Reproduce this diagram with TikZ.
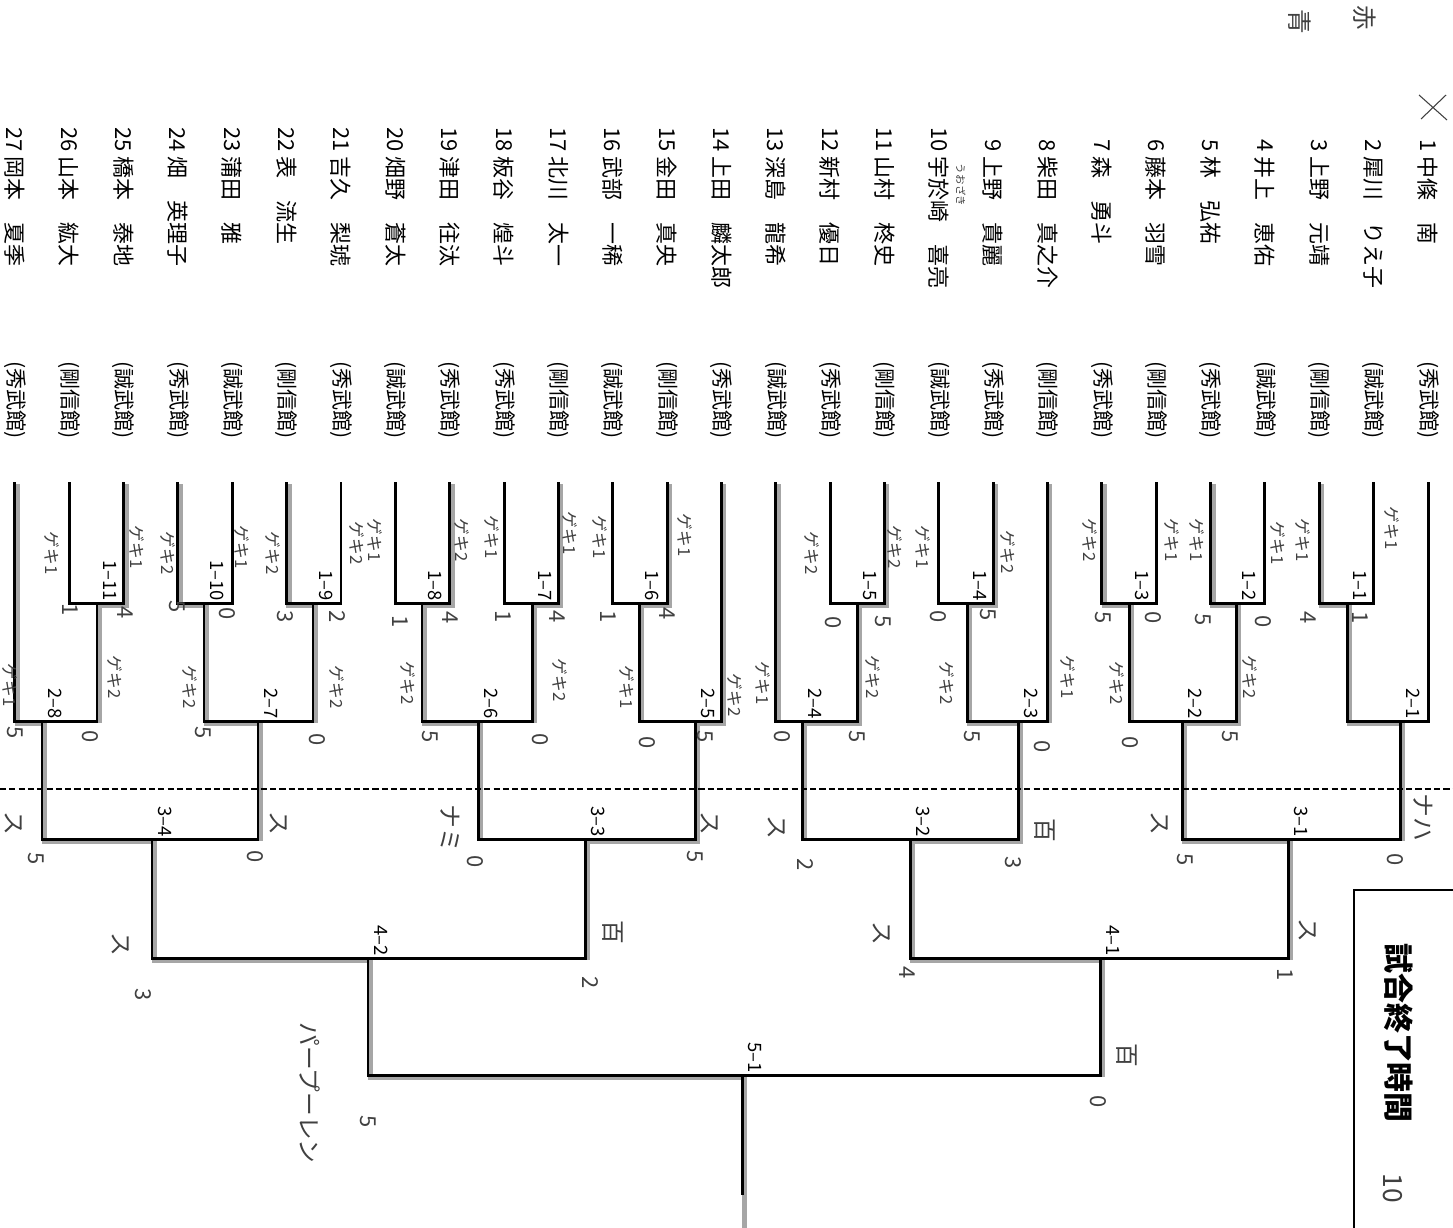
\documentclass[tikz,border=0pt]{standalone}
\usepackage{fontspec}
\setmainfont{Noto Sans CJK JP}
\newfontfamily\handfont{Noto Sans CJK JP}
\usetikzlibrary{calc}

\begin{document}
\begin{tikzpicture}[x=0.02cm, y=-0.02cm,
  txt/.style={rotate=-90, inner sep=0pt},
  num/.style={txt, anchor=east, font=\fontsize{12.5}{15}\selectfont},
  pname/.style={txt, anchor=west, font=\fontsize{12.5}{15}\selectfont},
  school/.style={txt, anchor=west, font=\fontsize{12}{14}\selectfont},
  round/.style={txt, anchor=east, font=\fontsize{10.5}{12}\selectfont},
  bracket/.style={line width=1.7pt},
  win/.style={line width=3pt, black!35},
  cut/.style={line width=0.7pt, dash pattern=on 3.5pt off 1.8pt},
  hand/.style={txt, text=black!75, font=\handfont\fontsize{9.5}{10}\selectfont},
  score/.style={hand, font=\handfont\fontsize{12.5}{13}\selectfont},
  kata/.style={hand, font=\handfont\fontsize{13.5}{14}\selectfont}]

\useasboundingbox[fill=white] (0,0) rectangle (1453,1227);

% entrants
\foreach \nb/\nm/\dojo [count=\i] in {1/中條　南/秀武館, 2/犀川　りえ子/誠武館,
    3/上野　元靖/剛信館, 4/井上　恵佑/誠武館, 5/林　弘祐/秀武館, 6/藤本　羽雪/剛信館,
    7/森　勇斗/秀武館, 8/柴田　真之介/剛信館, 9/上野　貴麗/秀武館, 10/宇於崎　喜亮/誠武館,
    11/山村　柊史/剛信館, 12/新村　優日/秀武館, 13/深島　龍希/誠武館, 14/上田　麟太郎/秀武館,
    15/金田　真央/剛信館, 16/武部　一稀/誠武館, 17/北川　太一/剛信館, 18/板谷　煌斗/秀武館,
    19/津田　往汰/秀武館, 20/畑野　蒼太/誠武館, 21/吉久　梨琥/秀武館, 22/表　流生/剛信館,
    23/蒲田　雅/誠武館, 24/畑　英理子/秀武館, 25/橋本　泰地/誠武館, 26/山本　紘大/剛信館,
    27/岡本　夏季/秀武館} {
  \pgfmathsetmacro{\px}{1428-(\i-1)*54.35}
  \node[num] (n\i) at (\px,152) {\nb};
  \node[pname] (p\i) at (\px,156) {\nm};
  \node[school] (s\i) at (\px,361) {(\dojo)};
  \coordinate (t\i) at (\px,482);
}
\node[hand, font=\handfont\fontsize{6}{7}\selectfont] (kana) at (961,185) {うおざき};
\draw[black!75, line width=0.6pt] (1419,95) -- (1447,120) (1421,119) -- (1446,95);

% match points
\foreach \m/\x/\y in {m11/1347/603, m12/1236/603, m13/1129/603, m14/967/603,
    m15/857/603, m16/639/603, m17/532/603, m18/422/603, m19/313/603,
    m110/204/603, m111/97/603,
    m21/1400/721, m22/1182/721, m23/1018/721, m24/802/721, m25/695/721,
    m26/478/721, m27/258/721, m28/42/721,
    m31/1288/839, m32/910/839, m33/585/839, m34/152/839,
    m41/1100/958, m42/368/958, m51/742/1075}
  \coordinate (\m) at (\x,\y);
\coordinate (fin) at (742,1195);

% marker over the winners
\begin{scope}[transform canvas={xshift=1.3pt, yshift=-1.3pt}]
\foreach \w/\m in {t3/m11, m11/m21, t5/m12, t7/m13, m12/m22, m22/m31,
    t9/m14, m14/m23, t11/m15, m15/m24, m23/m32, m32/m41,
    t15/m16, t14/m25, t17/m17, t19/m18, m18/m26, m25/m33,
    t22/m19, t24/m110, m110/m27, t25/m111, t27/m28, m28/m34, m34/m42, m42/m51}
  \draw[win] (\w) |- (\m);
\foreach \m/\p in {t8/m23, t13/m24, m13/m22, m21/m31, m24/m32, m31/m41,
    m41/m51, m16/m25, m17/m26, m26/m33, m33/m42, m19/m27, m111/m28, m27/m34}
  \draw[win] (\m) -- (\m |- \p);
\draw[win] (m51) -- (742,1232);
\end{scope}

% bracket
\foreach \a/\m/\b in {t2/m11/t3, t4/m12/t5, t6/m13/t7, t9/m14/t10, t11/m15/t12,
    t15/m16/t16, t17/m17/t18, t19/m18/t20, t21/m19/t22, t23/m110/t24, t25/m111/t26,
    t1/m21/m11, m12/m22/m13, t8/m23/m14, m15/m24/t13, t14/m25/m16, m17/m26/m18,
    m19/m27/m110, m111/m28/t27, m21/m31/m22, m23/m32/m24, m25/m33/m26,
    m27/m34/m28, m31/m41/m32, m33/m42/m34, m41/m51/m42}
  \draw[bracket] (\a) |- (\m) -| (\b);
\draw[bracket] (m51) -- (fin);

\foreach \m/\lb in {m11/1--1, m12/1--2, m13/1--3, m14/1--4, m15/1--5, m16/1--6,
    m17/1--7, m18/1--8, m19/1--9, m110/1--10, m111/1--11,
    m21/2--1, m22/2--2, m23/2--3, m24/2--4, m25/2--5, m26/2--6, m27/2--7, m28/2--8,
    m31/3--1, m32/3--2, m33/3--3, m34/3--4, m41/4--1, m42/4--2, m51/5--1}
  \node[round] (l\m) at ($(\m)+(13,-2)$) {\lb};

\draw[cut] (0,789) -- (1453,789);

% end time box
\draw[line width=0.8pt] (1354,1235) |- (1460,890);
\node[txt, font=\bfseries\fontsize{17}{20}\selectfont] (endtime) at (1399,1033) {試合終了時間};

% pencil notes
\foreach \x/\y/\tx [count=\k] in {1392/528/ゲキ1, 1303/540/ゲキ1, 1278/543/ゲキ1,
    1197/540/ゲキ1, 1172/540/ゲキ1, 1090/540/ゲキ2, 1008/552/ゲキ2, 923/547/ゲキ1,
    895/547/ゲキ2, 812/553/ゲキ2, 685/535/ゲキ1, 600/537/ゲキ1, 570/533/ゲキ1,
    492/537/ゲキ1, 462/540/ゲキ2, 375/540/ゲキ1, 357/543/ゲキ2, 273/553/ゲキ2,
    242/547/ゲキ1, 168/553/ゲキ2, 137/547/ゲキ1, 52/553/ゲキ1,
    1250/677/ゲキ2, 1117/683/ゲキ2, 1068/677/ゲキ1, 947/683/ゲキ2, 873/677/ゲキ2,
    763/683/ゲキ1, 735/695/ゲキ2, 627/687/ゲキ1, 560/680/ゲキ2, 408/683/ゲキ2,
    337/687/ゲキ2, 190/687/ゲキ2, 115/677/ゲキ2, 10/685/ゲキ1}
  \node[hand] (g\k) at (\x,\y) {\tx};
\foreach \x/\y/\tx [count=\k] in {1360/618/1, 1308/618/4, 1263/622/0, 1203/620/5,
    1153/618/0, 1103/618/5, 988/615/5, 938/617/0, 883/622/5, 833/623/0,
    667/614/4, 608/617/1, 557/617/4, 503/617/1, 450/618/4, 400/622/1,
    337/617/2, 285/617/3, 227/614/0, 177/607/5, 125/613/4, 70/610/1,
    1230/737/5, 1130/743/0, 1042/747/0, 972/737/5, 857/737/5, 782/737/0,
    705/737/5, 647/743/0, 540/740/0, 430/737/5, 317/740/0, 203/733/5,
    90/737/0, 15/733/5,
    1395/860/0, 1185/860/5, 1013/863/3, 805/865/2, 695/857/5, 475/862/0,
    255/857/0, 36/859/5,
    1285/975/1, 907/973/4, 590/983/2, 143/995/3,
    1098/1102/0, 368/1122/5}
  \node[score] (sc\k) at (\x,\y) {\tx};
\foreach \x/\y/\tx [count=\k] in {1423/817/ナハ, 1160/823/ス, 1045/830/百,
    777/827/ス, 710/823/ス, 450/828/ナミ, 279/823/ス, 14/823/ス,
    1308/930/ス, 882/933/ス, 613/932/百, 121/944/ス, 1127/1055/百}
  \node[kata] (k\k) at (\x,\y) {\tx};
\node[kata, font=\handfont\fontsize{13.5}{15}\selectfont] (kfinal) at (310,1093) {パープーレン};
\node[kata, font=\handfont\fontsize{14}{15}\selectfont] (aka) at (1365,18) {赤};
\node[kata, font=\handfont\fontsize{14}{15}\selectfont] (ao) at (1300,22) {青};
\node[kata, font=\handfont\fontsize{15}{16}\selectfont] (etime) at (1393,1188) {10};
\end{tikzpicture}
\end{document}
